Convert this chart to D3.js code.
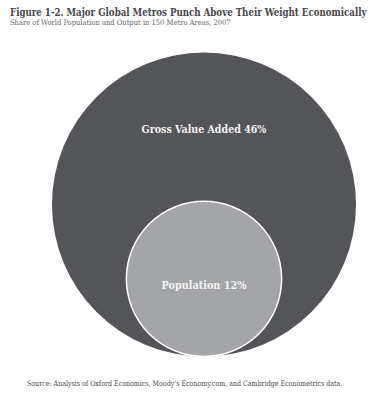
<!DOCTYPE html>
<html><head><meta charset="utf-8">
<script src="https://cdn.jsdelivr.net/npm/d3@7"></script>
<style>body{margin:0;background:#fff}svg{display:block}</style>
</head><body>
<script>
const categories = ["Gross Value Added", "Population"];
const values = [46, 12];
const title = "Figure 1-2. Major Global Metros Punch Above Their Weight Economically";
const subtitle = "Share of World Population and Output in 150 Metro Areas, 2007";
const source = "Source: Analysis of Oxford Economics, Moody’s Economy.com, and Cambridge Econometrics data.";

const W = 388, H = 400;
const svg = d3.select("body").append("svg").attr("width", W).attr("height", H);
const font = "'DejaVu Serif Condensed','DejaVu Serif',serif";

// place text and squeeze horizontally to a target width
function fitText(sel, x, y, width, anchor) {
  const w = sel.node().getComputedTextLength();
  const s = Math.min(1, width / w);
  const ox = anchor === "middle" ? 0 : 0;
  sel.attr("x", 0).attr("y", 0)
     .attr("transform", `translate(${x + ox},${y}) scale(${s},1)`);
}

const t = svg.append("text").attr("font-family", font)
  .attr("font-size", 11.5).attr("font-weight", "bold").attr("fill", "#48484a").text(title);
fitText(t, 10, 16, 357);
const st = svg.append("text").attr("font-family", font)
  .attr("font-size", 7.5).attr("fill", "#666668").text(subtitle);
fitText(st, 10, 25, 228);

const r = d3.scaleSqrt().domain([0, d3.max(values)]).range([0, 152]);
const cx = 204, bigCy = 204.5, bigR = r(values[0]);
const fills = ["#545559", "#a3a5a8"];
const data = categories.map((c, i) => ({c, v: values[i], r: r(values[i]),
  cy: bigCy + bigR - r(values[i]), fill: fills[i]}));

svg.selectAll("circle").data(data).join("circle")
  .attr("cx", cx).attr("cy", d => d.cy).attr("r", d => d.r)
  .attr("fill", d => d.fill)
  .attr("stroke", (d, i) => i ? "#fff" : "none").attr("stroke-width", 1.5);

const labelY = [133, 289];
const labelW = [125, 85];
svg.selectAll("text.lbl").data(data).join("text").attr("class", "lbl")
  .attr("text-anchor", "middle")
  .attr("font-family", font).attr("font-size", 11.5).attr("font-weight", "bold")
  .attr("fill", "#f2f2f2")
  .text(d => `${d.c} ${d.v}%`)
  .each(function(d, i) { fitText(d3.select(this), cx, labelY[i], labelW[i], "middle"); });

const src = svg.append("text").attr("font-family", font)
  .attr("font-size", 7.5).attr("fill", "#4a4a4a").text(source);
fitText(src, 27, 386, 316);
</script>
</body></html>
